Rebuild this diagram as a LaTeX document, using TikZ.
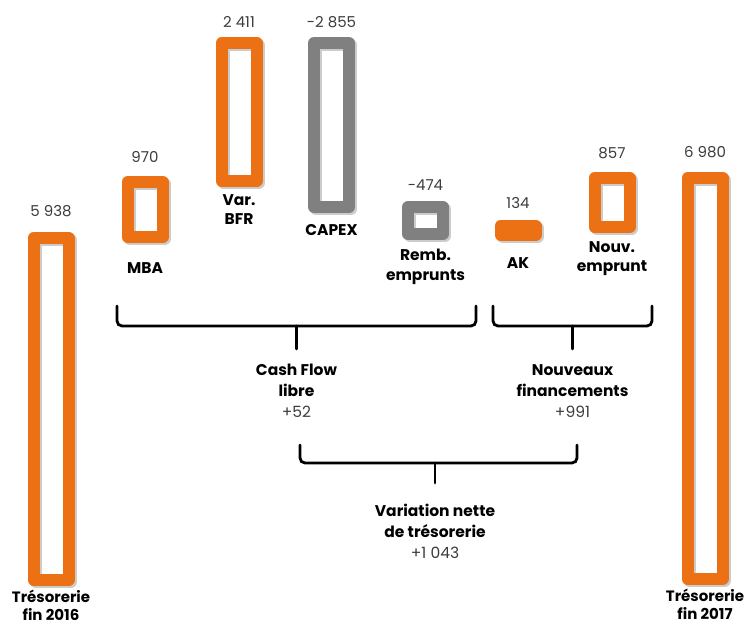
\documentclass[tikz,border=0pt]{standalone}
\usepackage{fontspec}
\setmainfont{Poppins}
\usepackage{xcolor}
\usetikzlibrary{positioning}
\definecolor{barorange}{RGB}{236,112,20}
\definecolor{bargray}{RGB}{128,128,128}
\definecolor{numgray}{RGB}{60,60,60}
\newcommand{\amount}[1]{{\color{numgray}\mdseries#1}}

\begin{document}
\begin{tikzpicture}[x=1pt, y=-1pt, node distance=8pt,
    barbox/.style={draw=barorange, line width=12pt, line join=round, inner sep=0pt,
        minimum width=35pt,
        preaction={draw=black!20, transform canvas={xshift=2pt,yshift=-2pt}}},
    graybox/.style={barbox, draw=bargray},
    amountlbl/.style={inner sep=0pt, text=numgray, font=\fontsize{15}{18}\selectfont},
    barlbl/.style={inner sep=0pt, align=center, font=\fontsize{15.5}{19.5}\selectfont\bfseries},
    endlbl/.style={barlbl, font=\fontsize{15}{18}\selectfont\bfseries},
    sumlbl/.style={inner sep=0pt, align=center, font=\fontsize{15.5}{21}\selectfont\bfseries},
    bracket/.style={line width=2.8pt, rounded corners=5pt, line cap=round}]
    \useasboundingbox (0,0) rectangle (749,627);

    % bars
    \node[barbox, minimum height=342pt] (t16) at (51,409) {};
    \node[barbox, minimum height=55pt] (mba) at (145,209.5) {};
    \node[barbox, minimum height=138pt] (bfr) at (239,112) {};
    \node[graybox, minimum height=164pt] (capex) at (331.5,125) {};
    \node[graybox, minimum height=27pt] (remb) at (425.5,220.5) {};
    \node[barbox, fill=barorange, minimum height=9pt] (ak) at (518,230.5) {};
    \node[barbox, minimum height=49pt] (nouv) at (612,202.5) {};
    \node[barbox, minimum height=401pt] (t17) at (705,378.5) {};

    % amounts
    \node[amountlbl, above=15pt of t16] (vt16) {5 938};
    \node[amountlbl, above=13pt of mba] (vmba) {970};
    \node[amountlbl, above=9pt of bfr] (vbfr) {2 411};
    \node[amountlbl, above=9pt of capex] (vcapex) {-2 855};
    \node[amountlbl, above=10pt of remb] (vremb) {-474};
    \node[amountlbl, above=11pt of ak] (vak) {134};
    \node[amountlbl, above=13pt of nouv] (vnouv) {857};
    \node[amountlbl, above=14pt of t17] (vt17) {6 980};

    % names
    \node[endlbl, below=4pt of t16] (nt16) {Trésorerie\\fin 2016};
    \node[barlbl, below=19pt of mba] (nmba) {MBA};
    \node[barlbl, below=7pt of bfr] (nbfr) {Var.\\BFR};
    \node[barlbl, below=11pt of capex] (ncapex) {CAPEX};
    \node[barlbl, below=9pt of remb] (nremb) {Remb.\\emprunts};
    \node[barlbl, below=16pt of ak] (nak) {AK};
    \node[barlbl, below=8pt of nouv] (nnouv) {Nouv.\\emprunt};
    \node[endlbl, below=4pt of t17] (nt17) {Trésorerie\\fin 2017};

    % braces
    \coordinate (cfl) at (117,306);
    \coordinate (cfr) at (476,306);
    \coordinate (cfm) at (296.5,326);
    \coordinate (cft) at (296.5,349);
    \draw[bracket] (cfl) |- (cfm) -| (cfr);
    \draw[bracket] (cfm) -- (cft);
    \node[sumlbl, below=15pt of cft] (cf) {Cash Flow\\libre\\\amount{+52}};

    \coordinate (nfl) at (493,306);
    \coordinate (nfr) at (652,306);
    \coordinate (nfm) at (572.5,326);
    \coordinate (nft) at (572.5,349);
    \draw[bracket] (nfl) |- (nfm) -| (nfr);
    \draw[bracket] (nfm) -- (nft);
    \node[sumlbl, below=15pt of nft] (nf) {Nouveaux\\financements\\\amount{+991}};

    \coordinate (vnl) at (300,445);
    \coordinate (vnr) at (577,445);
    \coordinate (vnm) at (435,463);
    \coordinate (vnt) at (435,483);
    \draw[bracket] (vnl) |- (vnm) -| (vnr);
    \draw[bracket] (vnm) -- (vnt);
    \node[sumlbl, below=21pt of vnt] (vn) {Variation nette\\de trésorerie\\\amount{+1 043}};
\end{tikzpicture}
\end{document}
